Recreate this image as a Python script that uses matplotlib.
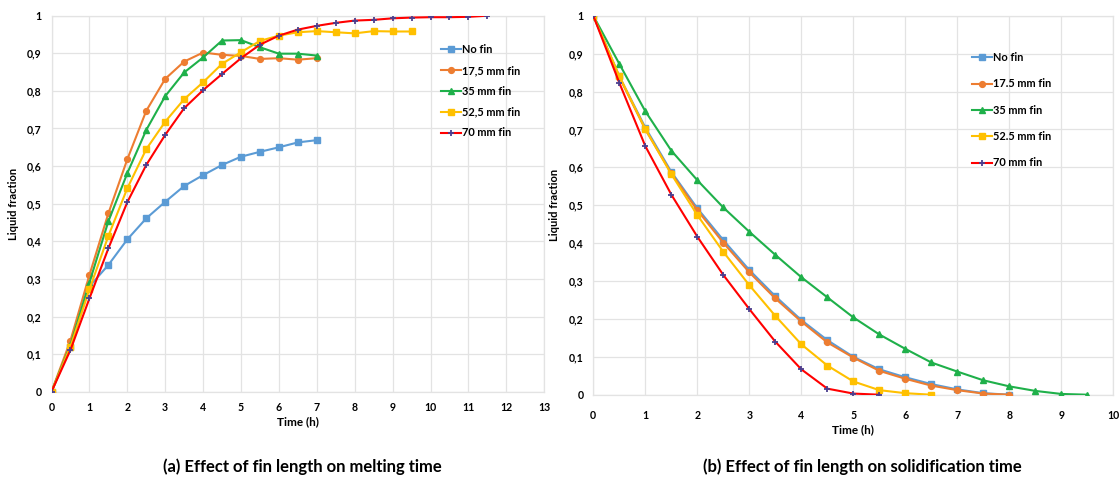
import matplotlib
matplotlib.use("Agg")
import matplotlib.pyplot as plt
import numpy as np

plt.rcParams['font.family'] = ['Lato', 'DejaVu Sans']

# ---- Melting (left panel) ----
melt_labels = ["No fin", "17,5 mm fin", "35 mm fin", "52,5 mm fin", "70 mm fin"]
melt_no_fin = [0, 0.12, 0.28, 0.337, 0.405, 0.461, 0.505, 0.547, 0.576, 0.603,
               0.625, 0.638, 0.650, 0.663, 0.669]
melt_17_5 = [0, 0.136, 0.31, 0.474, 0.618, 0.747, 0.832, 0.878, 0.902, 0.896,
             0.893, 0.885, 0.887, 0.883, 0.887]
melt_35 = [0, 0.124, 0.29, 0.453, 0.581, 0.696, 0.786, 0.849, 0.889, 0.934,
           0.935, 0.916, 0.899, 0.899, 0.894]
melt_52_5 = [0, 0.12, 0.272, 0.414, 0.541, 0.645, 0.718, 0.778, 0.823, 0.872,
             0.903, 0.933, 0.947, 0.956, 0.959, 0.956, 0.953, 0.959, 0.958, 0.958]
melt_70 = [0, 0.111, 0.248, 0.381, 0.504, 0.603, 0.683, 0.754, 0.802, 0.845,
           0.887, 0.923, 0.947, 0.963, 0.973, 0.981, 0.987, 0.989, 0.993, 0.995,
           0.996, 0.996, 0.997, 1.0]

# ---- Solidification (right panel) ----
solid_labels = ["No fin", "17.5 mm fin", "35 mm fin", "52.5 mm fin", "70 mm fin"]
solid_no_fin = [1, 0.84, 0.705, 0.588, 0.492, 0.408, 0.329, 0.260, 0.197, 0.144,
                0.100, 0.067, 0.046, 0.028, 0.014, 0.004, 0.0]
solid_17_5 = [1, 0.838, 0.70, 0.584, 0.487, 0.401, 0.323, 0.254, 0.193, 0.138,
              0.098, 0.063, 0.042, 0.024, 0.012, 0.003, 0.0]
solid_35 = [1, 0.873, 0.748, 0.644, 0.566, 0.494, 0.430, 0.369, 0.310, 0.257,
            0.204, 0.159, 0.121, 0.085, 0.061, 0.038, 0.022, 0.010, 0.002, 0.0]
solid_52_5 = [1, 0.841, 0.701, 0.582, 0.474, 0.377, 0.289, 0.208, 0.133, 0.077,
              0.035, 0.012, 0.004, 0.0]
solid_70 = [1, 0.823, 0.656, 0.528, 0.417, 0.316, 0.226, 0.140, 0.067, 0.016,
            0.003, 0.0]

time_step = 0.5

colors = ["#5b9bd5", "#ed7d31", "#1fb04a", "#ffc000", "#ff0000"]
markers = ["s", "o", "^", "s", "+"]
msizes = [4.2, 4.2, 4.2, 4.5, 4.5]

GRID = "#e3e3e3"
TICK_FONT = dict(fontsize=7.6, fontweight="bold")


def draw_series(ax, series, labels):
    handles = []
    for i, (vals, lab) in enumerate(zip(series, labels)):
        t = np.arange(len(vals)) * time_step
        kw = dict(color=colors[i], lw=1.5, marker=markers[i], ms=msizes[i],
                  label=lab, zorder=3 + i)
        if markers[i] == "+":
            kw.update(markeredgecolor="#4b3f8f", mew=1.3)
        else:
            kw.update(markeredgecolor=colors[i], markerfacecolor=colors[i])
        h, = ax.plot(t, vals, **kw)
        handles.append(h)
    return handles


def style_axes(ax, xmax, xpad):
    ax.set_xlim(0, xmax)
    ax.set_ylim(0, 1)
    ax.set_xticks(range(0, xmax + 1))
    ax.set_yticks(np.arange(0, 1.01, 0.1))
    ax.set_xticklabels([str(v) for v in range(0, xmax + 1)], **TICK_FONT)
    ax.set_yticklabels(["0" if v == 0 else ("1" if v == 10 else f"0,{v}")
                        for v in range(0, 11)], **TICK_FONT)
    ax.grid(True, color=GRID, lw=0.9)
    ax.set_axisbelow(True)
    for s in ax.spines.values():
        s.set_color(GRID)
        s.set_linewidth(0.9)
    ax.tick_params(length=0, colors="black")
    ax.tick_params(axis="y", pad=7)
    ax.tick_params(axis="x", pad=xpad)
    ax.set_ylabel("Liquid fraction", fontsize=8, fontweight="bold", labelpad=6)


fig = plt.figure(figsize=(11.2, 4.79), dpi=100)

ax1 = fig.add_axes([51.5 / 1120, 1 - 391.7 / 479, 492.7 / 1120, 376 / 479])
ax2 = fig.add_axes([593.3 / 1120, 1 - 394.7 / 479, 520 / 1120, 379 / 479])

style_axes(ax1, 13, 7.5)
style_axes(ax2, 10, 11)

h1 = draw_series(ax1, [melt_no_fin, melt_17_5, melt_35, melt_52_5, melt_70], melt_labels)
h2 = draw_series(ax2, [solid_no_fin, solid_17_5, solid_35, solid_52_5, solid_70], solid_labels)

ax1.set_xlabel("Time (h)", fontsize=8.5, fontweight="bold", labelpad=2.5)
ax2.set_xlabel("Time (h)", fontsize=8.5, fontweight="bold", labelpad=2.5)

leg_font = dict(size=7.9, weight="bold")
ax1.legend(handles=h1, loc="upper left", bbox_to_anchor=(441 / 1120, 1 - 44 / 479),
           bbox_transform=fig.transFigure, frameon=False, prop=leg_font,
           handlelength=1.8, handletextpad=0.1, labelspacing=0.9,
           borderaxespad=0, borderpad=0)
ax2.legend(handles=h2, loc="upper left", bbox_to_anchor=(972 / 1120, 1 - 52 / 479),
           bbox_transform=fig.transFigure, frameon=False, prop=leg_font,
           handlelength=1.8, handletextpad=0.1, labelspacing=1.4,
           borderaxespad=0, borderpad=0)

fig.text(302 / 1120, 1 - 467 / 479, "(a) Effect of fin length on melting time",
         ha="center", va="center", fontsize=12, fontweight="bold")
fig.text(862 / 1120, 1 - 467 / 479, "(b) Effect of fin length on solidification time",
         ha="center", va="center", fontsize=12, fontweight="bold")

fig.savefig("out.png", dpi=100, facecolor="white")
